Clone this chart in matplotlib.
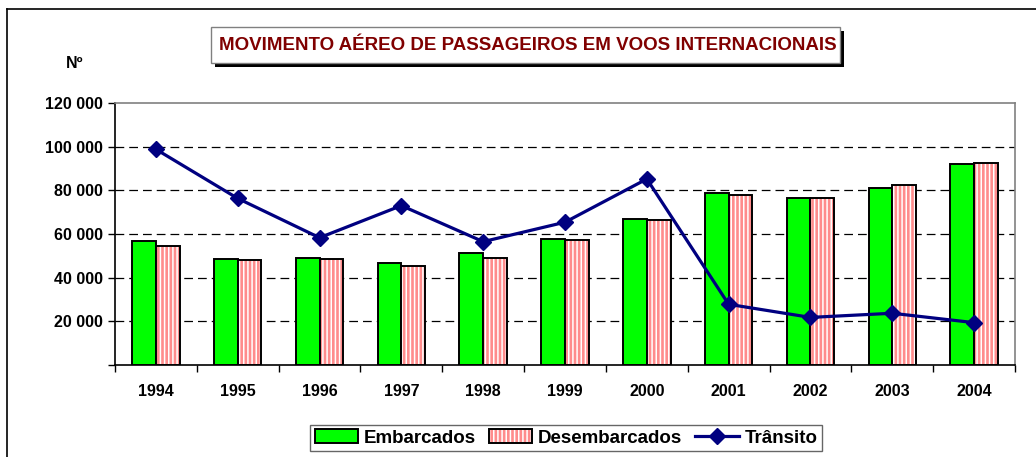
import matplotlib
matplotlib.use("Agg")
import matplotlib.pyplot as plt
from matplotlib.patches import Rectangle, Patch
from matplotlib.lines import Line2D
from matplotlib.legend_handler import HandlerTuple
from matplotlib.ticker import FuncFormatter, FixedLocator
import numpy as np

plt.rcParams['font.family'] = ['Liberation Sans', 'DejaVu Sans']
plt.rcParams['font.weight'] = 'bold'
plt.rcParams['hatch.linewidth'] = 1.1

years = ["1994", "1995", "1996", "1997", "1998", "1999", "2000", "2001", "2002", "2003", "2004"]
embarcados = [56800, 48500, 49100, 46500, 51300, 57600, 67000, 78900, 76600, 81200, 91900]
desembarcados = [54500, 48200, 48700, 45200, 49000, 57100, 66400, 77700, 76600, 82600, 92500]
transito = [98800, 76300, 58300, 73000, 56500, 65400, 85200, 27800, 21800, 23700, 19400]

W, H = 1036, 457
fig = plt.figure(figsize=(W / 100, H / 100), dpi=100)
ax = fig.add_axes([115 / W, 1 - 365 / H, (1015 - 115) / W, (365 - 103) / H])

x = np.arange(len(years))
bw = 0.29
ax.bar(x - bw / 2, embarcados, bw, color='#00FF00', edgecolor='black', linewidth=1.4, zorder=3)
# striped bars: pink face with white vertical hatch lines
ax.bar(x + bw / 2, desembarcados, bw, color='#FF8C8C', edgecolor='white', hatch='||||', linewidth=0, zorder=3)
ax.bar(x + bw / 2, desembarcados, bw, fill=False, edgecolor='black', linewidth=1.4, zorder=3.5)
ax.plot(x, transito, color='#000080', linewidth=2.3, marker='D', markersize=8.5, zorder=5)

ax.set_xlim(-0.5, len(years) - 0.5)
ax.set_ylim(0, 120000)
ax.set_yticks(np.arange(0, 120001, 20000))
ax.yaxis.set_major_formatter(FuncFormatter(lambda v, p: "" if v == 0 else f"{int(v):,}".replace(",", " ")))
ax.set_xticks(x)
ax.set_xticklabels(years)
ax.xaxis.set_minor_locator(FixedLocator(np.arange(-0.5, len(years), 1.0)))
ax.tick_params(axis='x', which='major', length=0, pad=14, labelsize=11.5)
ax.tick_params(axis='x', which='minor', length=5, width=1, direction='out', color='black')
ax.tick_params(axis='y', length=5, width=1, direction='out', labelsize=11.5, pad=4)

for v in range(20000, 120000, 20000):
    ax.axhline(v, color='black', linestyle=(0, (7, 4)), linewidth=0.9, zorder=1)

ax.spines['left'].set_color('black')
ax.spines['bottom'].set_color('black')
ax.spines['top'].set_color('#808080')
ax.spines['right'].set_color('#808080')
for s in ax.spines.values():
    s.set_linewidth(1.2)

# outer frame lines
fig.add_artist(Line2D([7 / W, 7 / W], [0, 1 - 9 / H], color='black', linewidth=1.2))
fig.add_artist(Line2D([7 / W, 1], [1 - 9 / H, 1 - 9 / H], color='black', linewidth=1.2))

# title box with shadow
bx0, bx1, by0, by1 = 211, 840, 27, 63
fig.add_artist(Rectangle(((bx0 + 4) / W, 1 - (by1 + 4) / H), (bx1 - bx0) / W, (by1 - by0) / H,
                         facecolor='black', edgecolor='none'))
fig.add_artist(Rectangle((bx0 / W, 1 - by1 / H), (bx1 - bx0) / W, (by1 - by0) / H,
                         facecolor='white', edgecolor='#808080', linewidth=1))
fig.text(528 / W, 1 - 45 / H, "MOVIMENTO AÉREO DE PASSAGEIROS EM VOOS INTERNACIONAIS",
         ha='center', va='center', color='#800000', fontsize=13.5, fontweight='bold')

fig.text(75 / W, 1 - 63 / H, "Nº", ha='center', va='center', fontsize=11.5, fontweight='bold')

h_emb = Patch(facecolor='#00FF00', edgecolor='black', linewidth=1.4)
h_des = (Patch(facecolor='#FF8C8C', edgecolor='white', hatch='||||', linewidth=0),
         Patch(fill=False, edgecolor='black', linewidth=1.4))
h_tra = Line2D([], [], color='#000080', linewidth=2.3, marker='D', markersize=8.5)
leg = fig.legend([h_emb, h_des, h_tra], ["Embarcados", "Desembarcados", "Trânsito"], loc='center',
                 bbox_to_anchor=(566 / W, 1 - 438 / H), ncol=3, fontsize=13.5, frameon=True,
                 fancybox=False, edgecolor='#404040', handlelength=2.3, handletextpad=0.32,
                 columnspacing=0.7, borderpad=0.25, handleheight=0.75,
                 handler_map={tuple: HandlerTuple(ndivide=1, pad=0)})
leg.get_frame().set_linewidth(1)

fig.savefig("out.png", dpi=100)
